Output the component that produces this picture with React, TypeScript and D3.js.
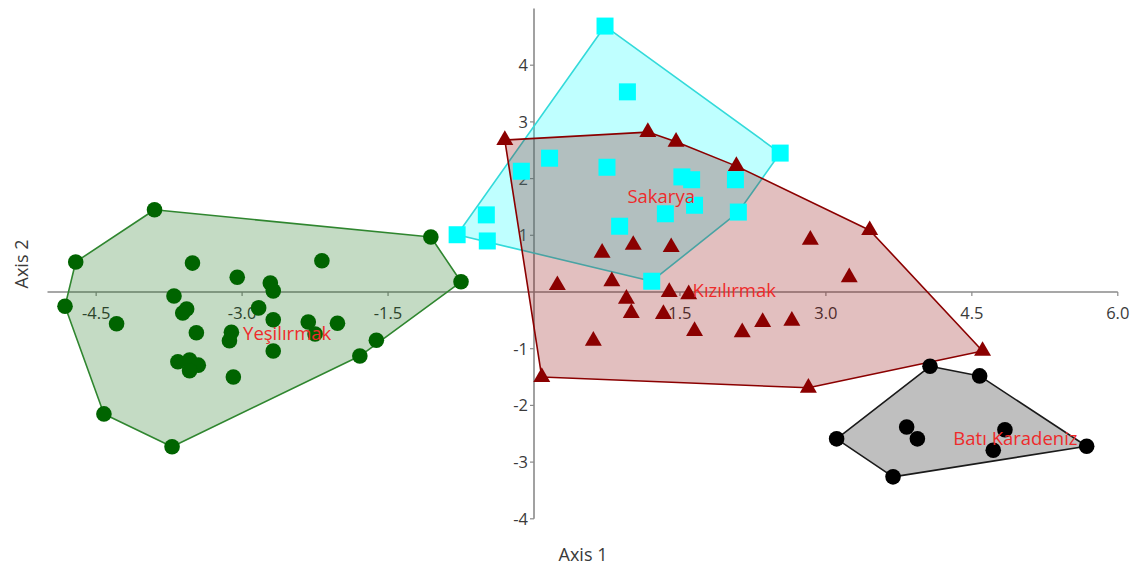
import React from "react";
import * as d3 from "d3";

const xTicks = [-4.5, -3.0, -1.5, 1.5, 3.0, 4.5, 6.0];
const yTicks = [-4, -3, -2, -1, 1, 2, 3, 4];

const yesilirmak: [number, number][] = [
  [-3.9, 1.45], [-1.06, 0.97], [-0.75, 0.18], [-1.62, -0.85], [-1.79, -1.13],
  [-3.72, -2.73], [-4.42, -2.15], [-4.82, -0.25], [-4.71, 0.53],
  [-3.51, 0.51], [-3.05, 0.26], [-2.18, 0.55], [-2.71, 0.16], [-2.68, 0.02],
  [-3.7, -0.07], [-3.57, -0.3], [-3.61, -0.37], [-2.83, -0.28], [-4.29, -0.56],
  [-2.68, -0.49], [-2.32, -0.53], [-2.02, -0.55], [-2.25, -0.74], [-3.47, -0.72],
  [-3.11, -0.71], [-3.13, -0.86], [-2.68, -1.04], [-3.66, -1.23], [-3.54, -1.2],
  [-3.45, -1.29], [-3.54, -1.39], [-3.09, -1.5],
];

const sakarya: [number, number][] = [
  [0.73, 4.69], [0.96, 3.53], [2.53, 2.45], [0.16, 2.36], [-0.13, 2.13],
  [0.75, 2.2], [1.52, 2.03], [1.62, 1.98], [2.07, 1.98], [1.65, 1.53],
  [1.35, 1.38], [2.1, 1.41], [0.88, 1.16], [-0.49, 1.36], [-0.79, 1.01],
  [-0.48, 0.9], [1.21, 0.19],
];

const kizilirmak: [number, number][] = [
  [-0.3, 2.68], [1.17, 2.82], [1.46, 2.65], [2.08, 2.22], [3.45, 1.09],
  [2.84, 0.92], [1.02, 0.83], [1.41, 0.79], [0.7, 0.69], [3.24, 0.26],
  [0.24, 0.12], [0.8, 0.19], [1.39, 0.0], [1.59, -0.04], [0.95, -0.12],
  [1.0, -0.37], [1.33, -0.39], [2.35, -0.53], [2.65, -0.51], [1.65, -0.69],
  [2.14, -0.71], [0.61, -0.86], [4.61, -1.04], [0.08, -1.5], [2.82, -1.69],
];

const batiKaradeniz: [number, number][] = [
  [4.07, -1.31], [4.58, -1.48], [3.11, -2.59], [3.69, -3.26], [5.68, -2.72],
  [3.83, -2.38], [3.94, -2.59], [4.84, -2.43], [4.72, -2.79],
];

const groupNames = ["Yeşilırmak", "Sakarya", "Kızılırmak", "Batı Karadeniz"];
const labelPos: [number, number][] = [[-2.99, -0.74], [0.96, 1.69], [1.63, 0.02], [4.31, -2.59]];

const W = 1140;
const H = 568;

const x = d3.scaleLinear().domain([-5, 6]).range([47.5, 1117.8]);
const y = d3.scaleLinear().domain([-4, 5]).range([518.8, 8.5]);

type Shape = "circle" | "square" | "triangle";
const groups: { pts: [number, number][]; shape: Shape; mark: string; fill: string; stroke: string }[] = [
  { pts: yesilirmak, shape: "circle", mark: "#006400", fill: "rgba(0,100,0,0.23)", stroke: "#2f862f" },
  { pts: sakarya, shape: "square", mark: "#00ffff", fill: "rgba(0,255,255,0.25)", stroke: "#33dada" },
  { pts: kizilirmak, shape: "triangle", mark: "#8b0000", fill: "rgba(139,0,0,0.25)", stroke: "#8b0000" },
  { pts: batiKaradeniz, shape: "circle", mark: "#000000", fill: "rgba(0,0,0,0.25)", stroke: "#1a1a1a" },
];

const font = "'Open Sans', 'Noto Sans', sans-serif";
const tri = d3.symbol().type(d3.symbolTriangle).size(125)() as string;
const fmtX = (t: number) => d3.format(".1f")(t).replace("\u2212", "-");
const fmtY = (t: number) => d3.format("d")(t).replace("\u2212", "-");

export default function App() {
  const line = d3.line();
  return (
    <svg width={W} height={H} style={{ position: "absolute", left: 0, top: 0, display: "block", background: "#fff" }}>
      {/* axes */}
      <line x1={x(-5)} x2={x(6)} y1={y(0)} y2={y(0)} stroke="#8a8a8a" strokeWidth={1.6} />
      <line x1={x(0)} x2={x(0)} y1={y(5)} y2={y(-4)} stroke="#8a8a8a" strokeWidth={1.6} />
      {xTicks.map((t) => (
        <g key={"xt" + t}>
          <line x1={x(t)} x2={x(t)} y1={y(0)} y2={y(0) + 4} stroke="#8a8a8a" strokeWidth={1.2} />
          <text x={x(t)} y={y(0) + 27} textAnchor="middle" fontFamily={font} fontSize={16.5} fill="#3a3a3a">
            {fmtX(t)}
          </text>
        </g>
      ))}
      {yTicks.map((t) => (
        <g key={"yt" + t}>
          <line x1={x(0) - 4} x2={x(0)} y1={y(t)} y2={y(t)} stroke="#8a8a8a" strokeWidth={1.2} />
          <text x={x(0) - 6} y={y(t)} dy="0.36em" textAnchor="end" fontFamily={font} fontSize={16.5} fill="#3a3a3a">
            {fmtY(t)}
          </text>
        </g>
      ))}
      <text x={583} y={H - 7} textAnchor="middle" fontFamily={font} fontSize={18} fill="#3a3a3a">Axis 1</text>
      <text transform={`translate(22,${y(0) - 28}) rotate(-90)`} textAnchor="middle" dy="0.36em" fontFamily={font} fontSize={18} fill="#3a3a3a">Axis 2</text>

      {/* hulls */}
      {groups.map((g, i) => {
        const hull = d3.polygonHull(g.pts.map((p) => [x(p[0]), y(p[1])] as [number, number]));
        return hull ? (
          <path key={"h" + i} d={line(hull) + "Z"} fill={g.fill} stroke={g.stroke} strokeWidth={1.6} strokeLinejoin="round" />
        ) : null;
      })}

      {/* markers */}
      {groups.map((g, i) => (
        <g key={"m" + i} fill={g.mark}>
          {g.pts.map((p, j) => {
            const cx = x(p[0]);
            const cy = y(p[1]);
            if (g.shape === "circle") return <circle key={j} cx={cx} cy={cy} r={7.8} />;
            if (g.shape === "square") return <rect key={j} x={cx - 8.5} y={cy - 8.5} width={17} height={17} />;
            return <path key={j} d={tri} transform={`translate(${cx},${cy})`} />;
          })}
        </g>
      ))}

      {/* group labels */}
      {groupNames.map((n, i) => (
        <text key={"l" + i} x={x(labelPos[i][0])} y={y(labelPos[i][1])} dy="0.35em" fontFamily={font} fontSize={18.5} fill="#ee2b2b">
          {n}
        </text>
      ))}
    </svg>
  );
}
